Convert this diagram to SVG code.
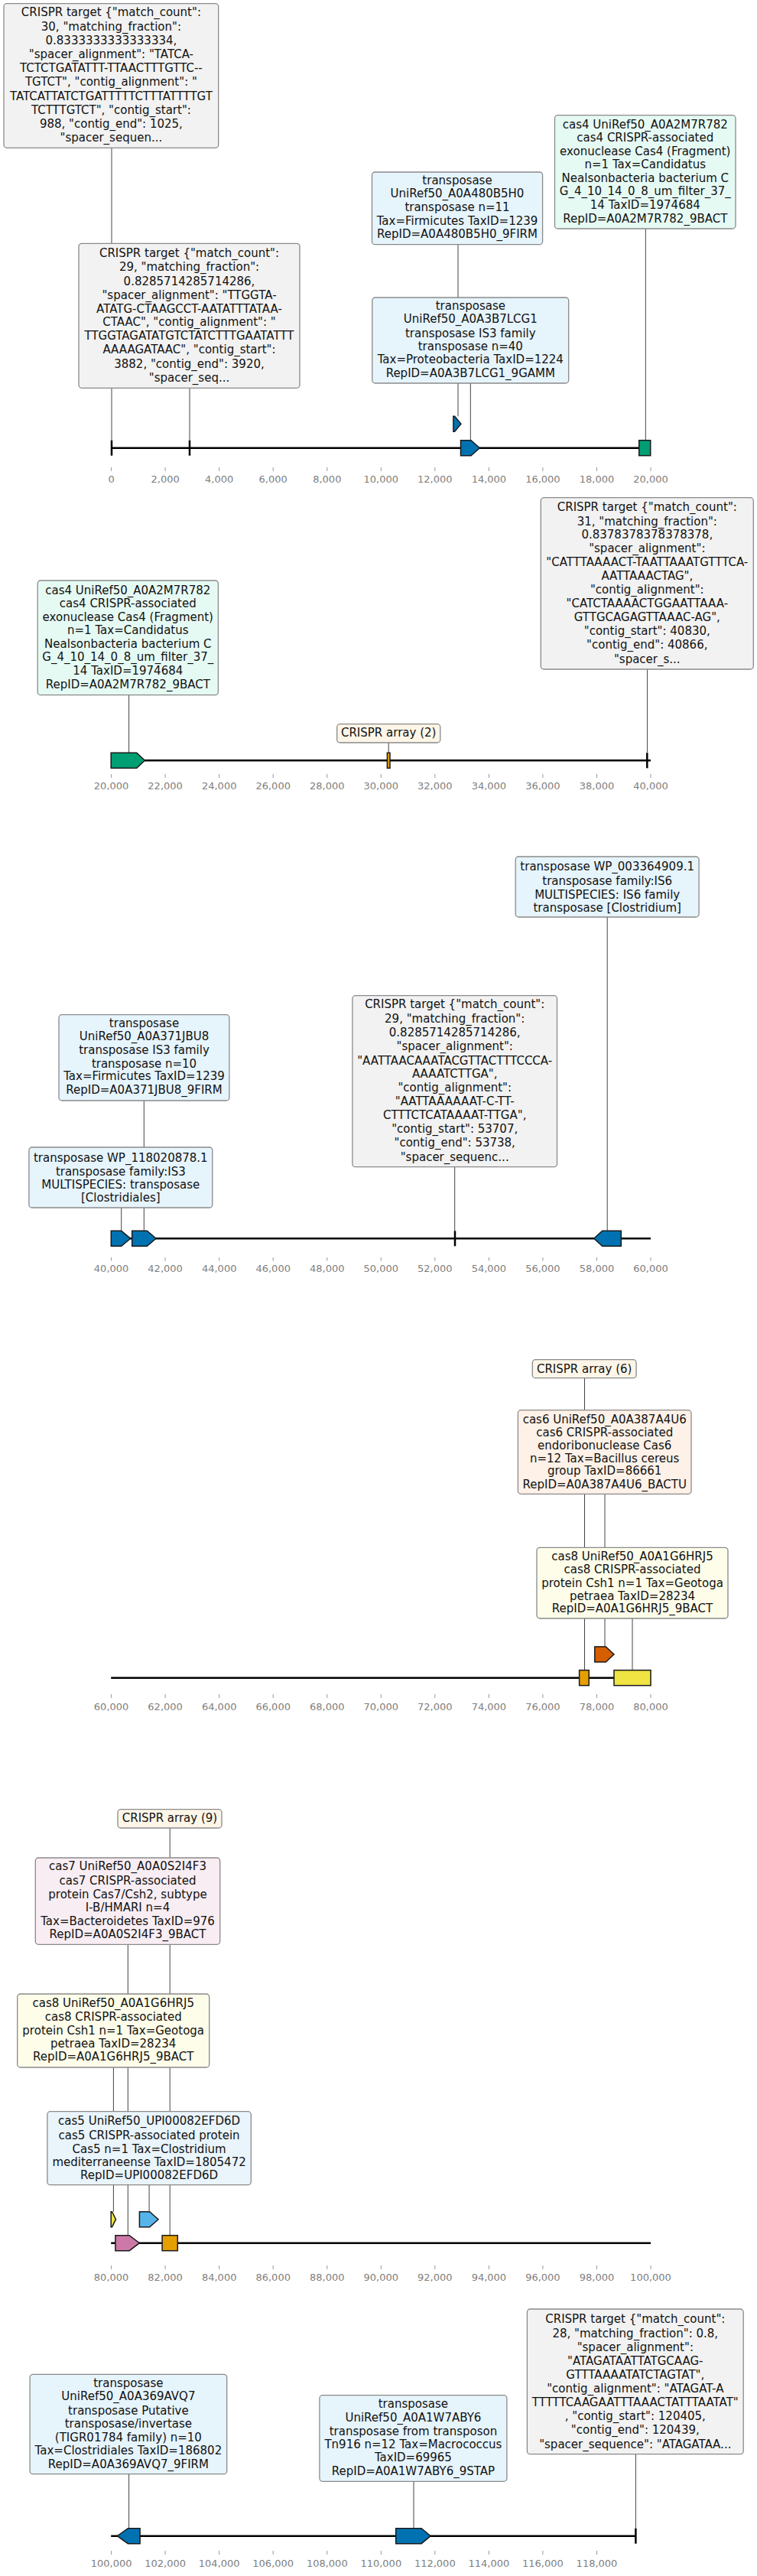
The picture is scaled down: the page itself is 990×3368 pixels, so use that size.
<svg xmlns="http://www.w3.org/2000/svg" width="990" height="3368" viewBox="0 0 990 3368">
<style>
.box{stroke:#8a8a8a;stroke-width:1.3}
.ct{fill:#f2f2f2}.tr{fill:#e6f4fc}.c4{fill:#e6faf4}.ca{fill:#fdf6e8}.c6{fill:#fdf1e8}.c8{fill:#fdfdea}.c7{fill:#f8edf3}.c5{fill:#e9f4fb}
.t{font-family:"DejaVu Sans",sans-serif;font-size:15px;fill:#111;text-anchor:middle}
.tl{font-family:"DejaVu Sans",sans-serif;font-size:13px;fill:#808080;text-anchor:middle}
.tick{stroke:#999;stroke-width:1}
.axis{stroke:#000;stroke-width:2.5;fill:none}
.conn{stroke:#444;stroke-width:1}
.feat{stroke:#1a1a1a;stroke-width:1.5}
.bar{stroke:#000;stroke-width:2.5}
.ftr{fill:#0072b2}.fc4{fill:#009e73}.fca{fill:#e69f00}.fc6{fill:#d55e00}.fc8{fill:#f0e442}.fc7{fill:#cc79a7}.fc5{fill:#56b4e9}
</style>

<g id="axes">
<line class="axis" x1="145.6" y1="585.7" x2="851" y2="585.7"/>
<line class="axis" x1="145.2" y1="994.3" x2="851" y2="994.3"/>
<line class="axis" x1="145.3" y1="1619.3" x2="851" y2="1619.3"/>
<line class="axis" x1="145.2" y1="2193.7" x2="851" y2="2193.7"/>
<line class="axis" x1="145.2" y1="2932.7" x2="851" y2="2932.7"/>
<line class="axis" x1="145.2" y1="3315.7" x2="831.4" y2="3315.7"/>
</g>

<g id="ticks">
<g class="tick">
<path d="M145.6 611v5M216.1 611v5M286.7 611v5M357.2 611v5M427.8 611v5M498.3 611v5M568.8 611v5M639.4 611v5M709.9 611v5M780.5 611v5M851 611v5"/>
<path d="M145.6 1012v5M216.1 1012v5M286.7 1012v5M357.2 1012v5M427.8 1012v5M498.3 1012v5M568.8 1012v5M639.4 1012v5M709.9 1012v5M780.5 1012v5M851 1012v5"/>
<path d="M145.6 1644v4.5M216.1 1644v4.5M286.7 1644v4.5M357.2 1644v4.5M427.8 1644v4.5M498.3 1644v4.5M568.8 1644v4.5M639.4 1644v4.5M709.9 1644v4.5M780.5 1644v4.5M851 1644v4.5"/>
<path d="M145.6 2215v5M216.1 2215v5M286.7 2215v5M357.2 2215v5M427.8 2215v5M498.3 2215v5M568.8 2215v5M639.4 2215v5M709.9 2215v5M780.5 2215v5M851 2215v5"/>
<path d="M145.6 2962v5M216.1 2962v5M286.7 2962v5M357.2 2962v5M427.8 2962v5M498.3 2962v5M568.8 2962v5M639.4 2962v5M709.9 2962v5M780.5 2962v5M851 2962v5"/>
<path d="M145.6 3335v5M216.1 3335v5M286.7 3335v5M357.2 3335v5M427.8 3335v5M498.3 3335v5M568.8 3335v5M639.4 3335v5M709.9 3335v5M780.5 3335v5"/>
</g>
<text class="tl"><tspan x="145.6" y="630.5">0</tspan><tspan x="216.1" y="630.5">2,000</tspan><tspan x="286.7" y="630.5">4,000</tspan><tspan x="357.2" y="630.5">6,000</tspan><tspan x="427.8" y="630.5">8,000</tspan><tspan x="498.3" y="630.5">10,000</tspan><tspan x="568.8" y="630.5">12,000</tspan><tspan x="639.4" y="630.5">14,000</tspan><tspan x="709.9" y="630.5">16,000</tspan><tspan x="780.5" y="630.5">18,000</tspan><tspan x="851" y="630.5">20,000</tspan></text>
<text class="tl"><tspan x="145.6" y="1032">20,000</tspan><tspan x="216.1" y="1032">22,000</tspan><tspan x="286.7" y="1032">24,000</tspan><tspan x="357.2" y="1032">26,000</tspan><tspan x="427.8" y="1032">28,000</tspan><tspan x="498.3" y="1032">30,000</tspan><tspan x="568.8" y="1032">32,000</tspan><tspan x="639.4" y="1032">34,000</tspan><tspan x="709.9" y="1032">36,000</tspan><tspan x="780.5" y="1032">38,000</tspan><tspan x="851" y="1032">40,000</tspan></text>
<text class="tl"><tspan x="145.6" y="1663">40,000</tspan><tspan x="216.1" y="1663">42,000</tspan><tspan x="286.7" y="1663">44,000</tspan><tspan x="357.2" y="1663">46,000</tspan><tspan x="427.8" y="1663">48,000</tspan><tspan x="498.3" y="1663">50,000</tspan><tspan x="568.8" y="1663">52,000</tspan><tspan x="639.4" y="1663">54,000</tspan><tspan x="709.9" y="1663">56,000</tspan><tspan x="780.5" y="1663">58,000</tspan><tspan x="851" y="1663">60,000</tspan></text>
<text class="tl"><tspan x="145.6" y="2235.5">60,000</tspan><tspan x="216.1" y="2235.5">62,000</tspan><tspan x="286.7" y="2235.5">64,000</tspan><tspan x="357.2" y="2235.5">66,000</tspan><tspan x="427.8" y="2235.5">68,000</tspan><tspan x="498.3" y="2235.5">70,000</tspan><tspan x="568.8" y="2235.5">72,000</tspan><tspan x="639.4" y="2235.5">74,000</tspan><tspan x="709.9" y="2235.5">76,000</tspan><tspan x="780.5" y="2235.5">78,000</tspan><tspan x="851" y="2235.5">80,000</tspan></text>
<text class="tl"><tspan x="145.6" y="2982">80,000</tspan><tspan x="216.1" y="2982">82,000</tspan><tspan x="286.7" y="2982">84,000</tspan><tspan x="357.2" y="2982">86,000</tspan><tspan x="427.8" y="2982">88,000</tspan><tspan x="498.3" y="2982">90,000</tspan><tspan x="568.8" y="2982">92,000</tspan><tspan x="639.4" y="2982">94,000</tspan><tspan x="709.9" y="2982">96,000</tspan><tspan x="780.5" y="2982">98,000</tspan><tspan x="851" y="2982">100,000</tspan></text>
<text class="tl"><tspan x="145.6" y="3356">100,000</tspan><tspan x="216.1" y="3356">102,000</tspan><tspan x="286.7" y="3356">104,000</tspan><tspan x="357.2" y="3356">106,000</tspan><tspan x="427.8" y="3356">108,000</tspan><tspan x="498.3" y="3356">110,000</tspan><tspan x="568.8" y="3356">112,000</tspan><tspan x="639.4" y="3356">114,000</tspan><tspan x="709.9" y="3356">116,000</tspan><tspan x="780.5" y="3356">118,000</tspan></text>
</g>

<g id="connectors" class="conn">
<line x1="146" y1="193.3" x2="146" y2="575.7"/>
<line x1="248" y1="507.3" x2="248" y2="575.7"/>
<line x1="599" y1="319.7" x2="599" y2="544.3"/>
<line x1="615.3" y1="501" x2="615.3" y2="575.7"/>
<line x1="844.3" y1="299" x2="844.3" y2="575.7"/>
<line x1="168.6" y1="908.7" x2="168.6" y2="984"/>
<line x1="508.2" y1="971" x2="508.2" y2="984"/>
<line x1="846.6" y1="875" x2="846.6" y2="984"/>
<line x1="794.2" y1="1199" x2="794.2" y2="1609.3"/>
<line x1="188.3" y1="1439" x2="188.3" y2="1609.3"/>
<line x1="158.7" y1="1579" x2="158.7" y2="1609.3"/>
<line x1="594.7" y1="1525.7" x2="594.7" y2="1609.3"/>
<line x1="764.5" y1="1801.7" x2="764.5" y2="2183.7"/>
<line x1="791" y1="1953.3" x2="791" y2="2153"/>
<line x1="827" y1="2116" x2="827" y2="2183.7"/>
<line x1="222.2" y1="2390" x2="222.2" y2="2922.7"/>
<line x1="167.3" y1="2542.3" x2="167.3" y2="2922.7"/>
<line x1="148.4" y1="2703" x2="148.4" y2="2891.7"/>
<line x1="195.1" y1="2856.7" x2="195.1" y2="2891.7"/>
<line x1="168.6" y1="3234.7" x2="168.6" y2="3305.7"/>
<line x1="541" y1="3244.3" x2="541" y2="3305.7"/>
<line x1="831.4" y1="3208.7" x2="831.4" y2="3305.7"/>
</g>

<g id="features">
<line class="bar" x1="146" y1="575.7" x2="146" y2="595.7"/>
<line class="bar" x1="248" y1="575.7" x2="248" y2="595.7"/>
<polygon class="feat ftr" points="592.9,544.3 594.6,544.3 602.9,554.3 594.6,564.3 592.9,564.3"/>
<polygon class="feat ftr" points="602.5,575.7 616,575.7 627.3,585.7 616,595.7 602.5,595.7"/>
<rect class="feat fc4" x="835.7" y="575.7" width="15" height="20"/>

<polygon class="feat fc4" points="145.2,984.3 178.7,984.3 189.4,994.3 178.7,1004.3 145.2,1004.3"/>
<rect class="feat fca" x="506.4" y="984.3" width="3.6" height="20"/>
<line class="bar" x1="846.3" y1="984.3" x2="846.3" y2="1004.3"/>

<polygon class="feat ftr" points="145.3,1609.3 158.7,1609.3 170.7,1619.3 158.7,1629.3 145.3,1629.3"/>
<polygon class="feat ftr" points="172.7,1609.3 192.3,1609.3 204,1619.3 192.3,1629.3 172.7,1629.3"/>
<line class="bar" x1="595" y1="1609.3" x2="595" y2="1629.3"/>
<polygon class="feat ftr" points="812.3,1609.3 787.7,1609.3 776.7,1619.3 787.7,1629.3 812.3,1629.3"/>

<polygon class="feat fc6" points="777.8,2153 792.3,2153 803,2163 792.3,2173 777.8,2173"/>
<rect class="feat fca" x="757.6" y="2183.7" width="12.6" height="20"/>
<rect class="feat fc8" x="803" y="2183.7" width="48" height="20"/>

<polygon class="feat fc8" points="145.2,2891.7 146.5,2891.7 151.5,2901.7 146.5,2911.7 145.2,2911.7"/>
<polygon class="feat fc5" points="182.4,2891.7 195.7,2891.7 207,2901.7 195.7,2911.7 182.4,2911.7"/>
<polygon class="feat fc7" points="150.9,2922.7 169.2,2922.7 182.4,2932.7 169.2,2942.7 150.9,2942.7"/>
<rect class="feat fca" x="212.1" y="2922.7" width="20.2" height="20"/>

<polygon class="feat ftr" points="183.1,3305.7 167.3,3305.7 153.4,3315.7 167.3,3325.7 183.1,3325.7"/>
<polygon class="feat ftr" points="517.7,3305.7 551.1,3305.7 563.1,3315.7 551.1,3325.7 517.7,3325.7"/>
<line class="bar" x1="831.4" y1="3305.7" x2="831.4" y2="3325.7"/>
</g>

<g id="crispr-target-988">
<rect class="box ct" x="5" y="4.7" width="280.7" height="188.6" rx="4"/>
<text class="t"><tspan x="145.4" y="21">CRISPR target {"match_count":</tspan><tspan x="145.4" y="40">30, "matching_fraction":</tspan><tspan x="145.4" y="58.3">0.8333333333333334,</tspan><tspan x="145.4" y="76.3">"spacer_alignment": "TATCA-</tspan><tspan x="145.4" y="94.3">TCTCTGATATTT-TTAACTTTGTTC--</tspan><tspan x="145.4" y="112.3">TGTCT", "contig_alignment": "</tspan><tspan x="145.4" y="131">TATCATTATCTGATTTTTCTTTATTTTGT</tspan><tspan x="145.4" y="148.7">TCTTTGTCT", "contig_start":</tspan><tspan x="145.4" y="166.7">988, "contig_end": 1025,</tspan><tspan x="145.4" y="185.3">"spacer_sequen...</tspan></text>
</g>

<g id="crispr-target-3882">
<rect class="box ct" x="103" y="318.3" width="289" height="189" rx="4"/>
<text class="t"><tspan x="247.5" y="335.7">CRISPR target {"match_count":</tspan><tspan x="247.5" y="354.3">29, "matching_fraction":</tspan><tspan x="247.5" y="372.7">0.8285714285714286,</tspan><tspan x="247.5" y="390.7">"spacer_alignment": "TTGGTA-</tspan><tspan x="247.5" y="408.7">ATATG-CTAAGCCT-AATATTTATAA-</tspan><tspan x="247.5" y="426.3">CTAAC", "contig_alignment": "</tspan><tspan x="247.5" y="444.3">TTGGTAGATATGTCTATCTTTGAATATTT</tspan><tspan x="247.5" y="462.3">AAAAGATAAC", "contig_start":</tspan><tspan x="247.5" y="480.7">3882, "contig_end": 3920,</tspan><tspan x="247.5" y="499.3">"spacer_seq...</tspan></text>
</g>

<g id="transposase-A0A480B5H0">
<rect class="box tr" x="486.5" y="225" width="223.1" height="94.7" rx="4"/>
<text class="t"><tspan x="598" y="240.7">transposase</tspan><tspan x="598" y="258.3">UniRef50_A0A480B5H0</tspan><tspan x="598" y="276.3">transposase n=11</tspan><tspan x="598" y="293.7">Tax=Firmicutes TaxID=1239</tspan><tspan x="598" y="311.3">RepID=A0A480B5H0_9FIRM</tspan></text>
</g>

<g id="transposase-A0A3B7LCG1">
<rect class="box tr" x="486.8" y="389" width="256.9" height="112" rx="4"/>
<text class="t"><tspan x="615.3" y="404.7">transposase</tspan><tspan x="615.3" y="422.3">UniRef50_A0A3B7LCG1</tspan><tspan x="615.3" y="440.7">transposase IS3 family</tspan><tspan x="615.3" y="457.7">transposase n=40</tspan><tspan x="615.3" y="475.3">Tax=Proteobacteria TaxID=1224</tspan><tspan x="615.3" y="492.7">RepID=A0A3B7LCG1_9GAMM</tspan></text>
</g>

<g id="cas4-track1">
<rect class="box c4" x="725.5" y="150.7" width="236.5" height="148.3" rx="4"/>
<text class="t"><tspan x="843.8" y="167.7">cas4 UniRef50_A0A2M7R782</tspan><tspan x="843.8" y="185.3">cas4 CRISPR-associated</tspan><tspan x="843.8" y="202.7">exonuclease Cas4 (Fragment)</tspan><tspan x="843.8" y="220.3">n=1 Tax=Candidatus</tspan><tspan x="843.8" y="237.7">Nealsonbacteria bacterium C</tspan><tspan x="843.8" y="255.3">G_4_10_14_0_8_um_filter_37_</tspan><tspan x="843.8" y="273">14 TaxID=1974684</tspan><tspan x="843.8" y="291">RepID=A0A2M7R782_9BACT</tspan></text>
</g>

<g id="cas4-track2">
<rect class="box c4" x="49.2" y="759" width="236.2" height="149.7" rx="4"/>
<text class="t"><tspan x="167.3" y="776.7">cas4 UniRef50_A0A2M7R782</tspan><tspan x="167.3" y="794.3">cas4 CRISPR-associated</tspan><tspan x="167.3" y="812">exonuclease Cas4 (Fragment)</tspan><tspan x="167.3" y="829.3">n=1 Tax=Candidatus</tspan><tspan x="167.3" y="847">Nealsonbacteria bacterium C</tspan><tspan x="167.3" y="864.3">G_4_10_14_0_8_um_filter_37_</tspan><tspan x="167.3" y="882.3">14 TaxID=1974684</tspan><tspan x="167.3" y="900.3">RepID=A0A2M7R782_9BACT</tspan></text>
</g>

<g id="crispr-array-2">
<rect class="box ca" x="440.7" y="946.7" width="135.1" height="24.3" rx="4"/>
<text class="t"><tspan x="508.2" y="963.3">CRISPR array (2)</tspan></text>
</g>

<g id="crispr-target-40830">
<rect class="box ct" x="707.3" y="650.7" width="278" height="224.3" rx="4"/>
<text class="t"><tspan x="846.3" y="667.7">CRISPR target {"match_count":</tspan><tspan x="846.3" y="686.7">31, "matching_fraction":</tspan><tspan x="846.3" y="704.3">0.8378378378378378,</tspan><tspan x="846.3" y="722.3">"spacer_alignment":</tspan><tspan x="846.3" y="740.3">"CATTTAAAACT-TAATTAAATGTTTCA-</tspan><tspan x="846.3" y="758.3">AATTAAACTAG",</tspan><tspan x="846.3" y="776.3">"contig_alignment":</tspan><tspan x="846.3" y="794.3">"CATCTAAAACTGGAATTAAA-</tspan><tspan x="846.3" y="812.3">GTTGCAGAGTTAAAC-AG",</tspan><tspan x="846.3" y="830.3">"contig_start": 40830,</tspan><tspan x="846.3" y="848.3">"contig_end": 40866,</tspan><tspan x="846.3" y="866.7">"spacer_s...</tspan></text>
</g>

<g id="transposase-WP_003364909">
<rect class="box tr" x="674.2" y="1120" width="239.9" height="79" rx="4"/>
<text class="t"><tspan x="794.2" y="1138.3">transposase WP_003364909.1</tspan><tspan x="794.2" y="1157.3">transposase family:IS6</tspan><tspan x="794.2" y="1174.7">MULTISPECIES: IS6 family</tspan><tspan x="794.2" y="1191.7">transposase [Clostridium]</tspan></text>
</g>

<g id="transposase-A0A371JBU8">
<rect class="box tr" x="77" y="1326.7" width="222.9" height="112.3" rx="4"/>
<text class="t"><tspan x="188.5" y="1342.7">transposase</tspan><tspan x="188.5" y="1360">UniRef50_A0A371JBU8</tspan><tspan x="188.5" y="1378.3">transposase IS3 family</tspan><tspan x="188.5" y="1395.7">transposase n=10</tspan><tspan x="188.5" y="1412.3">Tax=Firmicutes TaxID=1239</tspan><tspan x="188.5" y="1430">RepID=A0A371JBU8_9FIRM</tspan></text>
</g>

<g id="transposase-WP_118020878">
<rect class="box tr" x="37.9" y="1500" width="239.9" height="79" rx="4"/>
<text class="t"><tspan x="157.8" y="1518.7">transposase WP_118020878.1</tspan><tspan x="157.8" y="1536.7">transposase family:IS3</tspan><tspan x="157.8" y="1554.3">MULTISPECIES: transposase</tspan><tspan x="157.8" y="1571.3">[Clostridiales]</tspan></text>
</g>

<g id="crispr-target-53707">
<rect class="box ct" x="460.9" y="1301.7" width="267.6" height="224" rx="4"/>
<text class="t"><tspan x="594.7" y="1318.3">CRISPR target {"match_count":</tspan><tspan x="594.7" y="1337.3">29, "matching_fraction":</tspan><tspan x="594.7" y="1355">0.8285714285714286,</tspan><tspan x="594.7" y="1373.3">"spacer_alignment":</tspan><tspan x="594.7" y="1391.7">"AATTAACAAATACGTTACTTTCCCA-</tspan><tspan x="594.7" y="1409">AAAATCTTGA",</tspan><tspan x="594.7" y="1426.7">"contig_alignment":</tspan><tspan x="594.7" y="1445">"AATTAAAAAAT-C-TT-</tspan><tspan x="594.7" y="1462.7">CTTTCTCATAAAAT-TTGA",</tspan><tspan x="594.7" y="1480.7">"contig_start": 53707,</tspan><tspan x="594.7" y="1499">"contig_end": 53738,</tspan><tspan x="594.7" y="1517.7">"spacer_sequenc...</tspan></text>
</g>

<g id="crispr-array-6">
<rect class="box ca" x="696.3" y="1777.7" width="135.8" height="24" rx="4"/>
<text class="t"><tspan x="764.2" y="1795">CRISPR array (6)</tspan></text>
</g>

<g id="cas6">
<rect class="box c6" x="677.4" y="1843.7" width="226.6" height="109.6" rx="4"/>
<text class="t"><tspan x="790.7" y="1860.7">cas6 UniRef50_A0A387A4U6</tspan><tspan x="790.7" y="1878.3">cas6 CRISPR-associated</tspan><tspan x="790.7" y="1895">endoribonuclease Cas6</tspan><tspan x="790.7" y="1912.3">n=12 Tax=Bacillus cereus</tspan><tspan x="790.7" y="1928.3">group TaxID=86661</tspan><tspan x="790.7" y="1945.7">RepID=A0A387A4U6_BACTU</tspan></text>
</g>

<g id="cas8-track4">
<rect class="box c8" x="702" y="2023.3" width="250" height="92.7" rx="4"/>
<text class="t"><tspan x="827" y="2040">cas8 UniRef50_A0A1G6HRJ5</tspan><tspan x="827" y="2057.3">cas8 CRISPR-associated</tspan><tspan x="827" y="2075">protein Csh1 n=1 Tax=Geotoga</tspan><tspan x="827" y="2091.7">petraea TaxID=28234</tspan><tspan x="827" y="2108.3">RepID=A0A1G6HRJ5_9BACT</tspan></text>
</g>

<g id="crispr-array-9">
<rect class="box ca" x="154" y="2365.7" width="136" height="24.3" rx="4"/>
<text class="t"><tspan x="222" y="2382.3">CRISPR array (9)</tspan></text>
</g>

<g id="cas7">
<rect class="box c7" x="46.3" y="2429" width="241.4" height="113.3" rx="4"/>
<text class="t"><tspan x="167" y="2445">cas7 UniRef50_A0A0S2I4F3</tspan><tspan x="167" y="2464">cas7 CRISPR-associated</tspan><tspan x="167" y="2481.7">protein Cas7/Csh2, subtype</tspan><tspan x="167" y="2499.3">I-B/HMARI n=4</tspan><tspan x="167" y="2516.7">Tax=Bacteroidetes TaxID=976</tspan><tspan x="167" y="2534.3">RepID=A0A0S2I4F3_9BACT</tspan></text>
</g>

<g id="cas8-track5">
<rect class="box c8" x="22.7" y="2607" width="251" height="96" rx="4"/>
<text class="t"><tspan x="148.2" y="2624.3">cas8 UniRef50_A0A1G6HRJ5</tspan><tspan x="148.2" y="2642.3">cas8 CRISPR-associated</tspan><tspan x="148.2" y="2659.7">protein Csh1 n=1 Tax=Geotoga</tspan><tspan x="148.2" y="2677.3">petraea TaxID=28234</tspan><tspan x="148.2" y="2694.3">RepID=A0A1G6HRJ5_9BACT</tspan></text>
</g>

<g id="cas5">
<rect class="box c5" x="61.9" y="2760.7" width="266.4" height="96" rx="4"/>
<text class="t"><tspan x="195.1" y="2778.3">cas5 UniRef50_UPI00082EFD6D</tspan><tspan x="195.1" y="2797.3">cas5 CRISPR-associated protein</tspan><tspan x="195.1" y="2814.7">Cas5 n=1 Tax=Clostridium</tspan><tspan x="195.1" y="2832.3">mediterraneense TaxID=1805472</tspan><tspan x="195.1" y="2849.3">RepID=UPI00082EFD6D</tspan></text>
</g>

<g id="transposase-A0A369AVQ7">
<rect class="box tr" x="39.1" y="3104.3" width="257.6" height="130.4" rx="4"/>
<text class="t"><tspan x="167.9" y="3120.7">transposase</tspan><tspan x="167.9" y="3138.3">UniRef50_A0A369AVQ7</tspan><tspan x="167.9" y="3156.7">transposase Putative</tspan><tspan x="167.9" y="3174">transposase/invertase</tspan><tspan x="167.9" y="3191.7">(TIGR01784 family) n=10</tspan><tspan x="167.9" y="3209">Tax=Clostridiales TaxID=186802</tspan><tspan x="167.9" y="3226.7">RepID=A0A369AVQ7_9FIRM</tspan></text>
</g>

<g id="transposase-A0A1W7ABY6">
<rect class="box tr" x="417.9" y="3131.7" width="245" height="112.6" rx="4"/>
<text class="t"><tspan x="540.4" y="3147.7">transposase</tspan><tspan x="540.4" y="3165.7">UniRef50_A0A1W7ABY6</tspan><tspan x="540.4" y="3184">transposase from transposon</tspan><tspan x="540.4" y="3201">Tn916 n=12 Tax=Macrococcus</tspan><tspan x="540.4" y="3218.3">TaxID=69965</tspan><tspan x="540.4" y="3235.7">RepID=A0A1W7ABY6_9STAP</tspan></text>
</g>

<g id="crispr-target-120405">
<rect class="box ct" x="689.4" y="3019" width="282.8" height="189.7" rx="4"/>
<text class="t"><tspan x="830.8" y="3036.7">CRISPR target {"match_count":</tspan><tspan x="830.8" y="3055.7">28, "matching_fraction": 0.8,</tspan><tspan x="830.8" y="3073.7">"spacer_alignment":</tspan><tspan x="830.8" y="3092.3">"ATAGATAATTATGCAAG-</tspan><tspan x="830.8" y="3109.7">GTTTAAAATATCTAGTAT",</tspan><tspan x="830.8" y="3127.7">"contig_alignment": "ATAGAT-A</tspan><tspan x="830.8" y="3145.7">TTTTTCAAGAATTTAAACTATTTAATAT"</tspan><tspan x="830.8" y="3164">, "contig_start": 120405,</tspan><tspan x="830.8" y="3182">"contig_end": 120439,</tspan><tspan x="830.8" y="3200.7">"spacer_sequence": "ATAGATAA...</tspan></text>
</g>
</svg>
